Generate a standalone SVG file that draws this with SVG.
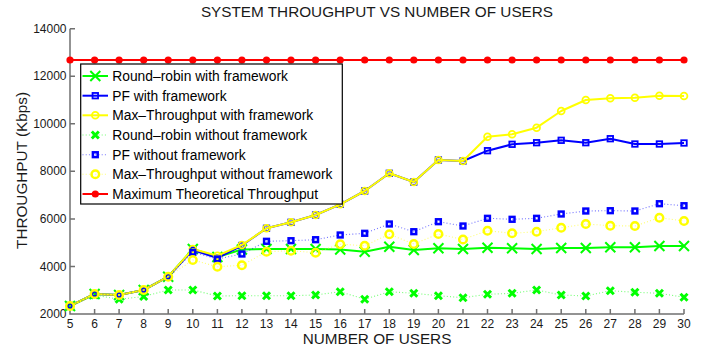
<svg xmlns="http://www.w3.org/2000/svg" width="710" height="347" viewBox="0 0 710 347">
<style>
text{font-family:"Liberation Sans",Arial,sans-serif;fill:#1a1a1a}
.tk{font-size:12px}
.ty{text-anchor:end}
.tx{text-anchor:middle}
.ttl{font-size:15.3px}
.lg{font-size:13.8px;fill:#000}
.ax{stroke:#707070;stroke-width:1.5;fill:none}
.s{fill:none;stroke-width:2;stroke-linejoin:round}
.d{fill:none;stroke-width:1.1;stroke-dasharray:1 2.2;stroke-opacity:0.55}
.g{stroke:#00ff00}.b{stroke:#0000ff}.y{stroke:#ffff00}.r{stroke:#ff0000}
</style>
<defs>
<marker id="mX" markerUnits="userSpaceOnUse" markerWidth="14" markerHeight="14" refX="7" refY="7" overflow="visible"><path d="M2,2L12,12M2,12L12,2" stroke="#00ff00" stroke-width="2" fill="none"/></marker>
<marker id="mXb" markerUnits="userSpaceOnUse" markerWidth="14" markerHeight="14" refX="7" refY="7" overflow="visible"><path d="M3.5,3.5L10.5,10.5M3.5,10.5L10.5,3.5" stroke="#00ff00" stroke-width="3" fill="none"/></marker>
<marker id="mS" markerUnits="userSpaceOnUse" markerWidth="14" markerHeight="14" refX="7" refY="7" overflow="visible"><rect x="4.25" y="4.25" width="5.5" height="5.5" stroke="#0000ff" stroke-width="1.8" fill="none"/></marker>
<marker id="mSb" markerUnits="userSpaceOnUse" markerWidth="14" markerHeight="14" refX="7" refY="7" overflow="visible"><rect x="4.6" y="4.6" width="4.8" height="4.8" stroke="#0000ff" stroke-width="2.5" fill="none"/></marker>
<marker id="mC" markerUnits="userSpaceOnUse" markerWidth="14" markerHeight="14" refX="7" refY="7" overflow="visible"><circle cx="7" cy="7" r="3.4" stroke="#ffff00" stroke-width="1.8" fill="none"/></marker>
<marker id="mCb" markerUnits="userSpaceOnUse" markerWidth="14" markerHeight="14" refX="7" refY="7" overflow="visible"><circle cx="7" cy="7" r="3.8" stroke="#ffff00" stroke-width="2.5" fill="none"/></marker>
<marker id="mR" markerUnits="userSpaceOnUse" markerWidth="14" markerHeight="14" refX="7" refY="7" overflow="visible"><circle cx="7" cy="7" r="3.6" fill="#ff0000"/></marker>
</defs>

<g id="title"><text class="ttl" x="377" y="17.3" text-anchor="middle">SYSTEM THROUGHPUT VS NUMBER OF USERS</text></g>

<g id="axes">
<path class="ax" d="M70,28.7V314H684"/>
<path class="ax" d="M70,28.7h5M70,76.25h5M70,123.8h5M70,171.35h5M70,218.9h5M70,266.45h5"/>
<path class="ax" d="M94.6,314v-5M119.1,314v-5M143.7,314v-5M168.2,314v-5M192.8,314v-5M217.4,314v-5M241.9,314v-5M266.5,314v-5M291,314v-5M315.6,314v-5M340.2,314v-5M364.7,314v-5M389.3,314v-5M413.8,314v-5M438.4,314v-5M463,314v-5M487.5,314v-5M512.1,314v-5M536.6,314v-5M561.2,314v-5M585.8,314v-5M610.3,314v-5M634.9,314v-5M659.4,314v-5M684,314v-5"/>
<g class="tk ty">
<text x="66.5" y="32.8">14000</text><text x="66.5" y="80.3">12000</text><text x="66.5" y="127.9">10000</text><text x="66.5" y="175.4">8000</text><text x="66.5" y="223">6000</text><text x="66.5" y="270.5">4000</text><text x="66.5" y="318.1">2000</text>
</g>
<g class="tk tx">
<text x="70" y="328">5</text><text x="94.6" y="328">6</text><text x="119.1" y="328">7</text><text x="143.7" y="328">8</text><text x="168.2" y="328">9</text><text x="192.8" y="328">10</text><text x="217.4" y="328">11</text><text x="241.9" y="328">12</text><text x="266.5" y="328">13</text><text x="291" y="328">14</text><text x="315.6" y="328">15</text><text x="340.2" y="328">16</text><text x="364.7" y="328">17</text><text x="389.3" y="328">18</text><text x="413.8" y="328">19</text><text x="438.4" y="328">20</text><text x="463" y="328">21</text><text x="487.5" y="328">22</text><text x="512.1" y="328">23</text><text x="536.6" y="328">24</text><text x="561.2" y="328">25</text><text x="585.8" y="328">26</text><text x="610.3" y="328">27</text><text x="634.9" y="328">28</text><text x="659.4" y="328">29</text><text x="684" y="328">30</text>
</g>
<text class="ttl" x="377" y="343.6" text-anchor="middle">NUMBER OF USERS</text>
<text class="ttl" transform="translate(26.8,170.5) rotate(-90)" text-anchor="middle">THROUGHPUT (Kbps)</text>
</g>

<g id="connectors">
<polyline id="rr-with" class="s g" marker-start="url(#mX)" marker-mid="url(#mX)" marker-end="url(#mX)" points="70,306 94.6,294 119.1,295 143.7,290 168.2,276.7 192.8,249 217.4,257 241.9,249.5 266.5,249 291,249 315.6,249 340.2,249.5 364.7,251.7 389.3,246.7 413.8,250 438.4,248.3 463,249 487.5,247.7 512.1,248.3 536.6,249 561.2,248 585.8,248 610.3,247.3 634.9,247.3 659.4,246 684,246"/>
<polyline id="pf-with" class="s b" marker-start="url(#mS)" marker-mid="url(#mS)" marker-end="url(#mS)" points="70,306 94.6,294 119.1,295 143.7,290 168.2,276.7 192.8,250 217.4,258 241.9,245.5 266.5,228.3 291,222.3 315.6,215 340.2,204.3 364.7,191 389.3,173.3 413.8,182 438.4,160 463,161 487.5,150.7 512.1,144.3 536.6,142.7 561.2,140.3 585.8,142.7 610.3,138.7 634.9,144 659.4,144 684,143"/>
<polyline id="max-with" class="s y" marker-start="url(#mC)" marker-mid="url(#mC)" marker-end="url(#mC)" points="70,306 94.6,294 119.1,295 143.7,290 168.2,276.7 192.8,249 217.4,255.7 241.9,245 266.5,228.3 291,222.3 315.6,215 340.2,204.3 364.7,191 389.3,173.3 413.8,182 438.4,160 463,161 487.5,136.7 512.1,134.3 536.6,127.7 561.2,111 585.8,100 610.3,98.3 634.9,97.7 659.4,95.7 684,96"/>
<polyline id="rr-without" class="d g" marker-start="url(#mXb)" marker-mid="url(#mXb)" marker-end="url(#mXb)" points="70,306 94.6,295 119.1,299.3 143.7,296.5 168.2,290 192.8,290 217.4,296 241.9,295.7 266.5,295.7 291,295.7 315.6,295 340.2,291.7 364.7,299.3 389.3,291.7 413.8,293.3 438.4,295.7 463,297.7 487.5,294.3 512.1,293.3 536.6,290 561.2,295 585.8,296 610.3,290.7 634.9,292.3 659.4,293.3 684,297.3"/>
<polyline id="pf-without" class="d b" marker-start="url(#mSb)" marker-mid="url(#mSb)" marker-end="url(#mSb)" points="70,306 94.6,294 119.1,295 143.7,290 168.2,276.7 192.8,252.3 217.4,259 241.9,254 266.5,241.3 291,240.7 315.6,239.7 340.2,235 364.7,233.3 389.3,224 413.8,231.7 438.4,221.7 463,226 487.5,218.3 512.1,219.3 536.6,218.3 561.2,214 585.8,211 610.3,210.7 634.9,211 659.4,203.7 684,205.7"/>
<polyline id="max-without" class="d y" marker-start="url(#mCb)" marker-mid="url(#mCb)" marker-end="url(#mCb)" points="70,306 94.6,294 119.1,295 143.7,290 168.2,276.7 192.8,260 217.4,266.7 241.9,265.3 266.5,251.7 291,250.7 315.6,252.7 340.2,244.2 364.7,245.7 389.3,234.3 413.8,244 438.4,234 463,239.5 487.5,230.7 512.1,233.3 536.6,231.7 561.2,227.7 585.8,224 610.3,225.7 634.9,226 659.4,217.7 684,221"/>
<polyline id="max-theoretical" class="s r" marker-start="url(#mR)" marker-mid="url(#mR)" marker-end="url(#mR)" points="70,60 94.6,60 119.1,60 143.7,60 168.2,60 192.8,60 217.4,60 241.9,60 266.5,60 291,60 315.6,60 340.2,60 364.7,60 389.3,60 413.8,60 438.4,60 463,60 487.5,60 512.1,60 536.6,60 561.2,60 585.8,60 610.3,60 634.9,60 659.4,60 684,60"/>
</g>

<g id="legend">
<rect x="80.7" y="64" width="261.6" height="140" fill="#ffffff" stroke="#000000" stroke-width="1.2"/>
<polyline class="s g" marker-mid="url(#mX)" points="82.5,76 95.3,76 108,76"/>
<text class="lg" x="112.3" y="81">Round–robin with framework</text>
<polyline class="s b" marker-mid="url(#mS)" points="82.5,95.7 95.3,95.7 108,95.7"/>
<text class="lg" x="112.3" y="100.7">PF with framework</text>
<polyline class="s y" marker-mid="url(#mC)" points="82.5,115.3 95.3,115.3 108,115.3"/>
<text class="lg" x="112.3" y="120.3">Max–Throughput with framework</text>
<polyline class="d g" marker-mid="url(#mXb)" points="82.5,135 95.3,135 108,135"/>
<text class="lg" x="112.3" y="140">Round–robin without framework</text>
<polyline class="d b" marker-mid="url(#mSb)" points="82.5,154.7 95.3,154.7 108,154.7"/>
<text class="lg" x="112.3" y="159.7">PF without framework</text>
<polyline class="d y" marker-mid="url(#mCb)" points="82.5,174.3 95.3,174.3 108,174.3"/>
<text class="lg" x="112.3" y="179.3">Max–Throughput without framework</text>
<polyline class="s r" marker-mid="url(#mR)" points="82.5,194 95.3,194 108,194"/>
<text class="lg" x="112.3" y="199">Maximum Theoretical Throughput</text>
</g>
</svg>
